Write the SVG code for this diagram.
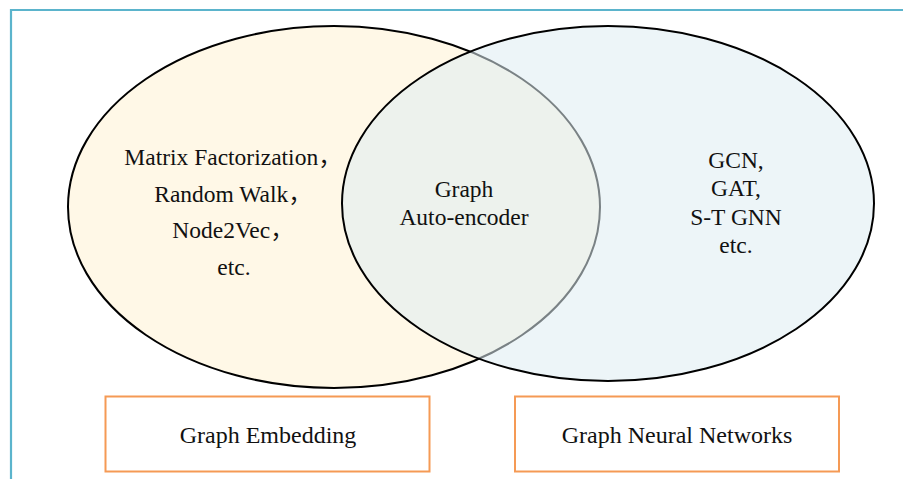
<svg xmlns="http://www.w3.org/2000/svg" width="903" height="479" viewBox="0 0 903 479">
  <style>
    .lbl { font-family: "Liberation Serif", "Noto Sans CJK SC", serif; font-size: 23.5px; fill: #111; text-anchor: middle; }
    .box { fill: #ffffff; stroke: #F59A55; stroke-width: 2; }
    .boxlbl { font-family: "Liberation Serif", serif; font-size: 24px; fill: #111; text-anchor: middle; }
    .ring { stroke: #000; stroke-width: 2; }
  </style>
  <rect width="903" height="479" fill="#ffffff"/>
  <!-- frame -->
  <path d="M11,479 V10 H903" fill="none" stroke="#5BB4CC" stroke-width="2.2"/>

  <g id="embedding-set">
    <ellipse class="ring" cx="334" cy="207" rx="266" ry="181" fill="#FFF8E7"/>
    <text class="lbl" x="233" y="165">Matrix Factorization，</text>
    <text class="lbl" x="233" y="201.5">Random Walk，</text>
    <text class="lbl" x="233" y="238">Node2Vec，</text>
    <text class="lbl" x="234" y="275">etc.</text>
  </g>

  <!-- translucent fill so the overlap blends with the left set -->
  <g id="gnn-set">
    <ellipse class="ring" cx="608" cy="203.5" rx="266" ry="177.5" fill="rgb(222,237,242)" fill-opacity="0.55"/>
    <text class="lbl" x="736" y="168">GCN,</text>
    <text class="lbl" x="736" y="196">GAT,</text>
    <text class="lbl" x="736" y="224.5">S-T GNN</text>
    <text class="lbl" x="736" y="253">etc.</text>
  </g>

  <g id="overlap">
    <text class="lbl" x="464" y="197">Graph</text>
    <text class="lbl" x="464" y="225">Auto-encoder</text>
  </g>

  <g id="graph-embedding">
    <rect class="box" x="105.5" y="396.5" width="324" height="75"/>
    <text class="boxlbl" x="268" y="443">Graph Embedding</text>
  </g>

  <g id="graph-neural-networks">
    <rect class="box" x="515" y="396.5" width="324" height="75"/>
    <text class="boxlbl" x="677" y="443">Graph Neural Networks</text>
  </g>

  <g id="connectors"></g>
</svg>
